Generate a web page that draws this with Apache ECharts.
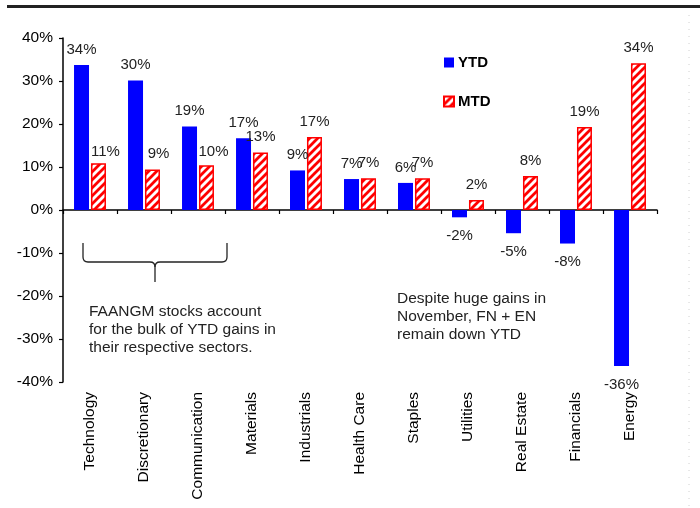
<!DOCTYPE html>
<html>
<head>
<meta charset="utf-8">
<script src="https://cdn.jsdelivr.net/npm/echarts@6/dist/echarts.min.js"></script>
<style>html,body{margin:0;padding:0;background:#fff;}#c{width:700px;height:508px;}</style>
</head>
<body>
<div id="c"></div>
<script>
const categories = ['Technology','Discretionary','Communication','Materials','Industrials','Health Care','Staples','Utilities','Real Estate','Financials','Energy'];
const ytd = [33.7, 30.1, 19.4, 16.7, 9.2, 7.2, 6.3, -1.7, -5.4, -7.8, -36.3];
const mtd = [10.9, 9.4, 10.4, 13.4, 17.0, 7.4, 7.4, 2.3, 7.9, 19.3, 34.1];
const yTicks = {min: -40, max: 40, interval: 10};
const note1 = 'FAANGM stocks account\nfor the bulk of YTD gains in\ntheir respective sectors.';
const note2 = 'Despite huge gains in\nNovember, FN + EN\nremain down YTD';

const FONT = "'Liberation Sans', Arial, sans-serif";

// label nudges (styling only) for the first MTD labels, as in the source chart
const mtdLabelNudge = {0: [7, 4], 1: [6, 0], 2: [7, 2]};

// hatch pattern
const pc = document.createElement('canvas');
pc.width = 8; pc.height = 8;
const g = pc.getContext('2d');
g.fillStyle = '#ffffff'; g.fillRect(0,0,8,8);
g.strokeStyle = '#ff0000'; g.lineWidth = 2.8;
g.beginPath();
g.moveTo(-2,2); g.lineTo(2,-2);
g.moveTo(0,8); g.lineTo(8,0);
g.moveTo(6,10); g.lineTo(10,6);
g.stroke();
const hatch = {image: pc, repeat: 'repeat'};

function lbl(v){ return Math.round(v) + '%'; }

const ytdData = ytd.map(v => ({
  value: v,
  label: {position: v < 0 ? 'bottom' : 'top', distance: v < 0 ? 11 : 8}
}));
const mtdData = mtd.map((v, i) => ({
  value: v,
  label: Object.assign({position: v < 0 ? 'bottom' : 'top', distance: v < 0 ? 11 : 8},
    mtdLabelNudge[i] ? {offset: mtdLabelNudge[i]} : {})
}));

const braceStyle = {stroke: '#222', lineWidth: 1.3, fill: null};
const brace = [
  {type: 'line', shape: {x1: 83, y1: 243, x2: 83, y2: 257}, style: braceStyle},
  {type: 'bezierCurve', shape: {x1: 83, y1: 257, cpx1: 83, cpy1: 262, x2: 88, y2: 262}, style: braceStyle},
  {type: 'line', shape: {x1: 88, y1: 262, x2: 150, y2: 262}, style: braceStyle},
  {type: 'bezierCurve', shape: {x1: 150, y1: 262, cpx1: 155, cpy1: 262, x2: 155, y2: 267}, style: braceStyle},
  {type: 'line', shape: {x1: 155, y1: 267, x2: 155, y2: 282}, style: braceStyle},
  {type: 'bezierCurve', shape: {x1: 155, y1: 267, cpx1: 155, cpy1: 262, x2: 160, y2: 262}, style: braceStyle},
  {type: 'line', shape: {x1: 160, y1: 262, x2: 222, y2: 262}, style: braceStyle},
  {type: 'bezierCurve', shape: {x1: 222, y1: 262, cpx1: 227, cpy1: 262, x2: 227, y2: 257}, style: braceStyle},
  {type: 'line', shape: {x1: 227, y1: 257, x2: 227, y2: 243}, style: braceStyle}
];

const chart = echarts.init(document.getElementById('c'), null, {renderer: 'canvas'});
chart.setOption({
  animation: false,
  backgroundColor: '#ffffff',
  textStyle: {fontFamily: FONT},
  grid: {left: 63, right: 43, top: 38, bottom: 126},
  legend: {
    orient: 'vertical', left: 443, top: 55, itemGap: 24, padding: 0,
    itemWidth: 10, itemHeight: 10, icon: 'rect',
    textStyle: {fontFamily: FONT, fontSize: 15, fontWeight: 'bold', color: '#000', padding: [0, 0, 0, -1]},
    data: ['YTD', 'MTD']
  },
  xAxis: [{
    type: 'category', data: categories,
    axisLine: {onZero: true, lineStyle: {color: '#000', width: 1.5}},
    axisTick: {show: true, interval: 0, alignWithLabel: false, length: 4, lineStyle: {color: '#000', width: 1.2}},
    axisLabel: {show: false}
  }, {
    type: 'category', data: categories, position: 'bottom',
    axisLine: {show: false}, axisTick: {show: false},
    axisLabel: {rotate: 90, interval: 0, margin: 10, fontSize: 15.5, color: '#000', fontFamily: FONT}
  }],
  yAxis: {
    type: 'value', min: yTicks.min, max: yTicks.max, interval: yTicks.interval,
    axisLine: {show: true, lineStyle: {color: '#000', width: 1.5}},
    axisTick: {show: true, length: 4, lineStyle: {color: '#000', width: 1.2}},
    splitLine: {show: false},
    axisLabel: {formatter: '{value}%', fontSize: 15.5, color: '#000', margin: 10, fontFamily: FONT}
  },
  series: [{
    name: 'YTD', type: 'bar', xAxisIndex: 0, barWidth: 15, barGap: '13%',
    itemStyle: {color: '#0000ff'},
    label: {show: true, formatter: p => lbl(p.value), fontSize: 15, color: '#222', fontFamily: FONT},
    data: ytdData
  }, {
    name: 'MTD', type: 'bar', xAxisIndex: 0, barWidth: 15, barGap: '13%',
    itemStyle: {color: hatch, borderColor: '#ff0000', borderWidth: 1.5},
    label: {show: true, formatter: p => lbl(p.value), fontSize: 15, color: '#222', fontFamily: FONT},
    data: mtdData
  }],
  graphic: [
    {type: 'rect', shape: {x: 7, y: 5, width: 693, height: 3}, style: {fill: '#222'}},
    {type: 'line', shape: {x1: 689, y1: 15, x2: 689, y2: 508}, style: {stroke: '#d0d0d0', lineWidth: 1, lineDash: [1, 6]}}
  ].concat(brace).concat([
    {type: 'text', left: 89, top: 303, style: {text: note1, font: '15.5px ' + FONT, fill: '#222', lineHeight: 18}},
    {type: 'text', left: 397, top: 290, style: {text: note2, font: '15.5px ' + FONT, fill: '#222', lineHeight: 18}}
  ])
});
</script>
</body>
</html>
